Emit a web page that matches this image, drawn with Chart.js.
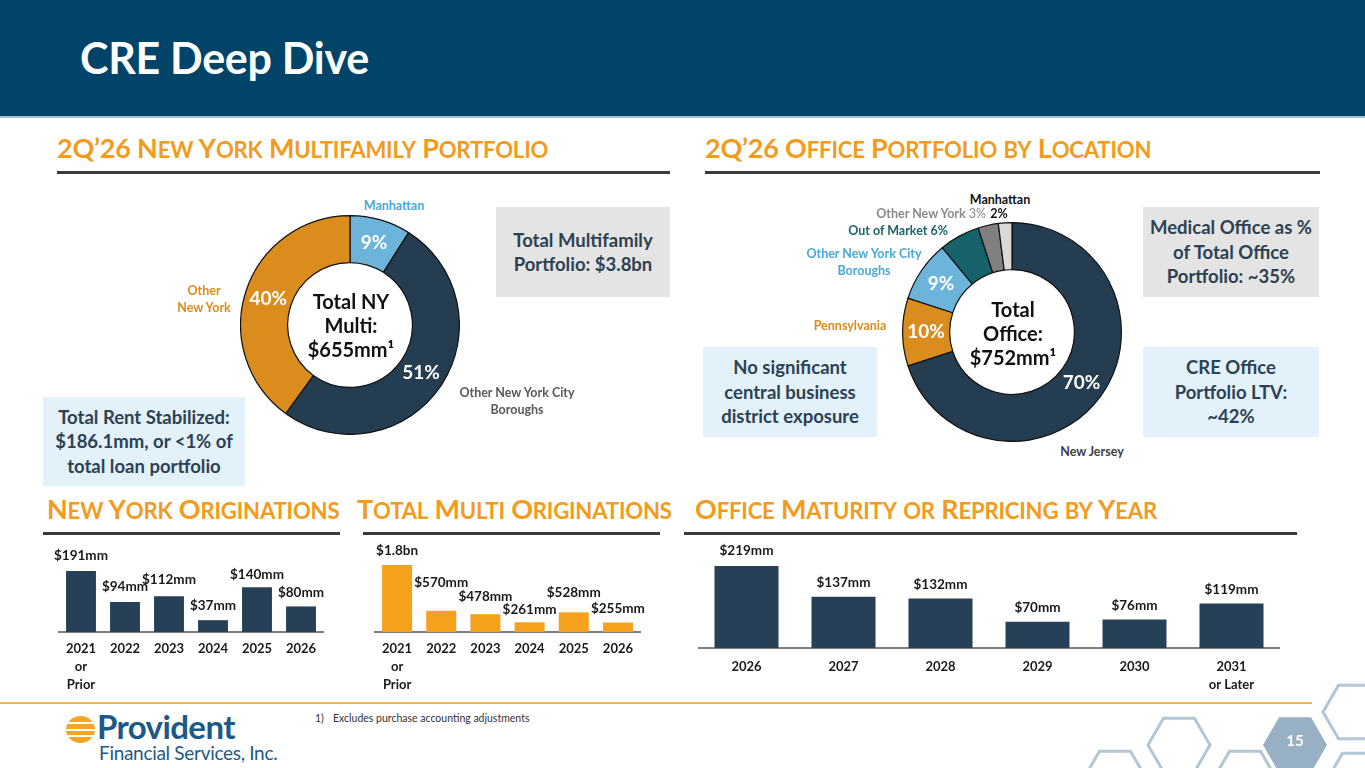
<!DOCTYPE html>
<html>
<head>
<meta charset="utf-8">
<script src="https://cdn.jsdelivr.net/npm/chart.js@4.4.1/dist/chart.umd.min.js"></script>
<style>
  html,body{margin:0;padding:0;}
  body{width:1365px;height:768px;position:relative;overflow:hidden;background:#fff;font-family:Lato,"Open Sans",sans-serif;}
  .abs{position:absolute;}
  .band{left:0;top:0;width:1365px;height:116px;background:#004469;border-bottom:2px solid #9fbfd3;}
  .title{left:80px;top:32px;color:#fff;font-size:43px;font-weight:700;letter-spacing:-0.3px;}
  .sec{color:#F29B1C;font-weight:700;font-size:27px;letter-spacing:-0.2px;white-space:nowrap;}
  .rule{height:3px;background:#3b3b3b;}
  .box{display:flex;align-items:center;justify-content:center;text-align:center;color:#2c4252;font-weight:700;font-size:18.5px;line-height:24.5px;}
  .gray{background:#e4e4e4;}
  .lblue{background:#e3f1fa;}
  .lab{font-weight:700;font-size:12.5px;line-height:17px;text-align:center;white-space:nowrap;}
  .center{font-weight:700;font-size:20px;line-height:24px;text-align:center;color:#111;}
  canvas{position:absolute;}
</style>
</head>
<body>
<div class="abs band"></div>
<div class="abs title">CRE Deep Dive</div>

<div class="abs sec" style="left:57px;top:131px;">2Q’26 New York Multifamily Portfolio</div>
<div class="abs rule" style="left:57px;top:171px;width:613px;"></div>
<div class="abs sec" style="left:705px;top:131px;">2Q’26 Office Portfolio by Location</div>
<div class="abs rule" style="left:705px;top:171px;width:615px;"></div>

<div class="abs sec" style="left:47px;top:492px;">New York Originations</div>
<div class="abs rule" style="left:43px;top:532px;width:297px;"></div>
<div class="abs sec" style="left:357px;top:492px;">Total Multi Originations</div>
<div class="abs rule" style="left:363px;top:532px;width:297px;"></div>
<div class="abs sec" style="left:695px;top:492px;">Office Maturity or Repricing by Year</div>
<div class="abs rule" style="left:684px;top:532px;width:613px;"></div>

<!-- boxes -->
<div class="abs box gray" style="left:496px;top:207px;width:174px;height:90px;">Total Multifamily<br>Portfolio: $3.8bn</div>
<div class="abs box lblue" style="left:43px;top:397px;width:202px;height:89px;">Total Rent Stabilized:<br>$186.1mm, or &lt;1% of<br>total loan portfolio</div>
<div class="abs box gray" style="left:1143px;top:207px;width:176px;height:90px;">Medical Office as %<br>of Total Office<br>Portfolio: ~35%</div>
<div class="abs box lblue" style="left:703px;top:347px;width:174px;height:90px;">No significant<br>central business<br>district exposure</div>
<div class="abs box lblue" style="left:1143px;top:347px;width:176px;height:90px;">CRE Office<br>Portfolio LTV:<br>~42%</div>

<!-- donut canvases -->
<canvas id="nyDonut" width="220" height="220" style="left:240px;top:215px;"></canvas>
<canvas id="offDonut" width="220" height="220" style="left:902px;top:222px;"></canvas>

<div class="abs center" style="left:290px;top:289px;width:122px;">Total NY<br>Multi:<br>$655mm¹</div>
<div class="abs center" style="left:952px;top:297px;width:122px;">Total<br>Office:<br>$752mm¹</div>

<!-- left donut labels -->
<div class="abs lab" style="left:344px;top:197px;width:100px;color:#4aa9d6;">Manhattan</div>
<div class="abs lab" style="left:154px;top:282px;width:100px;color:#d98c1a;">Other<br>New York</div>
<div class="abs lab" style="left:447px;top:384px;width:140px;color:#595959;">Other New York City<br>Boroughs</div>

<!-- right donut labels -->
<div class="abs lab" style="left:950px;top:191px;width:100px;color:#111;">Manhattan</div>
<div class="abs lab" style="left:985px;top:205px;width:28px;color:#111;">2%</div>
<div class="abs lab" style="left:860px;top:205px;width:126px;color:#8a8a8a;text-align:right;">Other New York <span style="font-weight:400">3%</span></div>
<div class="abs lab" style="left:830px;top:222px;width:118px;color:#1d6469;text-align:right;">Out of Market 6%</div>
<div class="abs lab" style="left:794px;top:245px;width:140px;color:#4aa9d6;">Other New York City<br>Boroughs</div>
<div class="abs lab" style="left:800px;top:317px;width:100px;color:#d98c1a;">Pennsylvania</div>
<div class="abs lab" style="left:1042px;top:443px;width:100px;color:#404040;">New Jersey</div>

<!-- bar canvases -->
<canvas id="nyBar" width="304" height="170" style="left:39px;top:530px;"></canvas>
<canvas id="multiBar" width="305" height="170" style="left:355px;top:530px;"></canvas>
<canvas id="officeBar" width="582" height="170" style="left:698px;top:530px;"></canvas>

<!-- footer -->
<div class="abs" style="left:0;top:702px;width:1312px;height:2px;background:#f3b642;"></div>
<div class="abs" style="left:66px;top:716px;width:29px;height:27px;border-radius:50%;overflow:hidden;background:#f5a623;">
  <div class="abs" style="left:0;top:6px;width:29px;height:2px;background:#fff;"></div>
  <div class="abs" style="left:0;top:12.5px;width:29px;height:2px;background:#fff;"></div>
  <div class="abs" style="left:0;top:19px;width:29px;height:2px;background:#fff;"></div>
</div>
<div class="abs" style="left:97px;top:706px;font-size:33px;font-weight:700;color:#1d5987;letter-spacing:-0.6px;">Provident</div>
<div class="abs" style="left:99px;top:741px;font-size:19px;font-weight:400;color:#1d5987;letter-spacing:-0.3px;">Financial Services, Inc.</div>
<div class="abs" style="left:315px;top:712px;font-size:10.5px;color:#333;">1)</div>
<div class="abs" style="left:333px;top:712px;font-size:10.5px;color:#333;">Excludes purchase accounting adjustments</div>

<svg class="abs" style="left:0;top:0;" width="1365" height="768"></svg>
<div class="abs" style="left:1270px;top:731px;width:50px;text-align:center;color:#fff;font-weight:700;font-size:15px;">15</div>

<script>
// ---------- data ----------
const nyMultiLabels = ['Manhattan', 'Other New York City Boroughs', 'Other New York'];
const nyMultiShares = [9, 51, 40];

const officeLabels = ['New Jersey', 'Pennsylvania', 'Other New York City Boroughs', 'Out of Market', 'Other New York', 'Manhattan'];
const officeShares = [70, 10, 9, 6, 3, 2];

const nyOrigYears = [['2021', 'or', 'Prior'], '2022', '2023', '2024', '2025', '2026'];
const nyOrigValues = [191, 94, 112, 37, 140, 80];

const multiOrigYears = [['2021', 'or', 'Prior'], '2022', '2023', '2024', '2025', '2026'];
const multiOrigValues = [1800, 570, 478, 261, 528, 255];

const maturityYears = ['2026', '2027', '2028', '2029', '2030', ['2031', 'or Later']];
const maturityValues = [219, 137, 132, 70, 76, 119];

// ---------- small caps headings ----------
document.querySelectorAll('.sec').forEach(el => {
  const t = el.textContent;
  el.innerHTML = t.replace(/[a-z]+/g, m => '<span style="font-size:0.82em">' + m.toUpperCase() + '</span>');
});

// ---------- decorations (hexagons) ----------
(function(){
  const svgNS = 'http://www.w3.org/2000/svg';
  const svg = document.querySelector('svg');
  const hexes = [
    {cx:1179, cy:745, r:31, fill:false},
    {cx:1115, cy:778, r:31, fill:false},
    {cx:1245, cy:778, r:31, fill:false},
    {cx:1354, cy:712, r:31, fill:false},
    {cx:1358, cy:780, r:31, fill:false},
    {cx:1295, cy:745, r:32, fill:true}
  ];
  hexes.forEach(h => {
    const p = document.createElementNS(svgNS, 'polygon');
    const pts = [];
    for (let k = 0; k < 6; k++) {
      const a = Math.PI / 3 * k;
      pts.push((h.cx + h.r * Math.cos(a)).toFixed(1) + ',' + (h.cy + h.r * Math.sin(a)).toFixed(1));
    }
    p.setAttribute('points', pts.join(' '));
    if (h.fill) { p.setAttribute('fill', '#97b0c3'); }
    else { p.setAttribute('fill', 'none'); p.setAttribute('stroke', '#b3c6d3'); p.setAttribute('stroke-width', '3'); }
    svg.appendChild(p);
  });
})();

const FONT = 'Lato, "Open Sans", sans-serif';
Chart.defaults.font.family = FONT;
Chart.defaults.animation = false;
Chart.defaults.plugins.legend.display = false;
Chart.defaults.plugins.tooltip.enabled = false;

// ---------- doughnut percent labels ----------
const arcLabels = {
  id: 'arcLabels',
  afterDatasetsDraw(chart, args, opts) {
    const ctx = chart.ctx;
    const meta = chart.getDatasetMeta(0);
    const data = chart.data.datasets[0].data;
    ctx.save();
    ctx.fillStyle = '#fff';
    ctx.font = '700 19px ' + FONT;
    ctx.textAlign = 'center';
    ctx.textBaseline = 'middle';
    meta.data.forEach((arc, i) => {
      if (data[i] < opts.minShow) return;
      const p = arc.tooltipPosition();
      ctx.fillText(data[i] + '%', p.x, p.y);
    });
    ctx.restore();
  }
};

function donut(id, labels, values, colors) {
  new Chart(document.getElementById(id), {
    type: 'doughnut',
    data: { labels, datasets: [{ data: values, backgroundColor: colors, borderColor: '#111', borderWidth: 1.2 }] },
    options: {
      responsive: false, cutout: '57%',
      layout: { padding: 0 },
      plugins: { arcLabels: { minShow: 9 } }
    },
    plugins: [arcLabels]
  });
}
donut('nyDonut', nyMultiLabels, nyMultiShares, ['#6cb4d9', '#243d51', '#da8d1c']);
donut('offDonut', officeLabels, officeShares, ['#243d51', '#da8d1c', '#6cb4d9', '#15626a', '#808080', '#d9d9d9']);

// ---------- bar value labels ----------
const barLabels = {
  id: 'barLabels',
  afterDatasetsDraw(chart, args, opts) {
    const ctx = chart.ctx;
    const meta = chart.getDatasetMeta(0);
    const data = chart.data.datasets[0].data;
    ctx.save();
    ctx.fillStyle = '#1a1a1a';
    ctx.font = '700 13.5px ' + FONT;
    ctx.textAlign = 'center';
    ctx.textBaseline = 'middle';
    meta.data.forEach((bar, i) => {
      const v = data[i];
      const txt = v >= 1000 ? '$' + (v / 1000) + 'bn' : '$' + v + 'mm';
      ctx.fillText(txt, bar.x, bar.y - opts.lift[i]);
    });
    ctx.restore();
  }
};

function bars(id, labels, values, color, yMax, axisH, tickPad, barPct, sidePad, lift) {
  new Chart(document.getElementById(id), {
    type: 'bar',
    data: { labels, datasets: [{ data: values, backgroundColor: color, categoryPercentage: 1, barPercentage: barPct }] },
    options: {
      responsive: false,
      layout: { padding: { left: sidePad, right: sidePad, top: 0, bottom: 0 } },
      scales: {
        x: {
          grid: { display: false, drawTicks: false },
          border: { display: true, color: '#7f7f7f', width: 2 },
          ticks: { color: '#1a1a1a', font: { size: 13, weight: '700', lineHeight: 1.385 }, padding: tickPad, maxRotation: 0, autoSkip: false },
          afterFit: (s) => { s.height = axisH; }
        },
        y: { display: false, min: 0, max: yMax }
      },
      plugins: { barLabels: { lift } }
    },
    plugins: [barLabels]
  });
}
bars('nyBar', nyOrigYears, nyOrigValues, '#264157', 319, 68, 8, 0.68, 20, [15, 15, 17, 15, 13, 14]);
bars('multiBar', multiOrigYears, multiOrigValues, '#f5a11d', 2742, 68, 8, 0.68, 20, [14, 28, 18, 13, 20, 14]);
bars('officeBar', maturityYears, maturityValues, '#264157', 315, 52, 10, 0.66, 0, [15, 14, 14, 14, 14, 14]);
</script>
</body>
</html>
